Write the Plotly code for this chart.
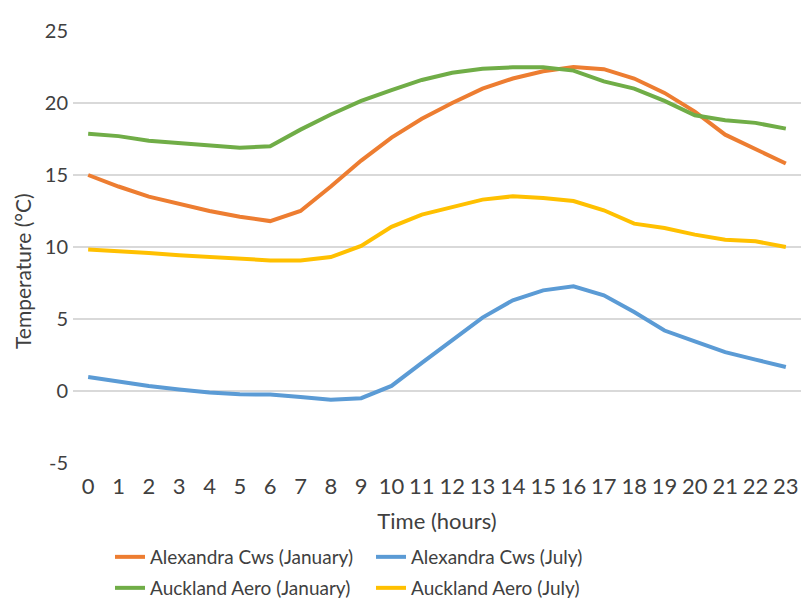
import plotly.graph_objects as go

hours = list(range(24))
hour_labels = [str(h) for h in hours]

alexandra_jan = [15.0, 14.2, 13.5, 13.0, 12.5, 12.1, 11.8, 12.5, 14.2, 16.0, 17.6, 18.9,
                 20.0, 21.0, 21.7, 22.2, 22.5, 22.35, 21.7, 20.7, 19.4, 17.8, 16.8, 15.8]
alexandra_jul = [0.97, 0.63, 0.35, 0.1, -0.11, -0.23, -0.25, -0.42, -0.6, -0.5, 0.35, 1.95,
                 3.55, 5.1, 6.3, 6.99, 7.27, 6.65, 5.48, 4.2, 3.45, 2.7, 2.18, 1.67]
auckland_jan = [17.87, 17.7, 17.38, 17.22, 17.12, 16.9, 16.99, 18.15, 19.2, 20.15, 20.9, 21.6,
                22.1, 22.38, 22.48, 22.48, 22.25, 21.5, 21.0, 20.15, 19.15, 18.8, 18.62, 18.22]
auckland_jul = [9.82, 9.72, 9.58, 9.42, 9.3, 9.19, 9.07, 9.07, 9.3, 10.07, 11.4, 12.25,
                12.78, 13.29, 13.52, 13.4, 13.19, 12.55, 11.62, 11.32, 10.86, 10.51, 10.4, 10.0]

y_ticks = [-5, 0, 5, 10, 15, 20, 25]
y_tick_labels = ["-5", "0", "5", "10", "15", "20", "25"]

FONT = "Lato, Open Sans, sans-serif"
TEXT = "#404040"
GRID = "#D9D9D9"

series = [
    ("Alexandra Cws (January)", alexandra_jan, "#ED7D31", "legend"),
    ("Alexandra Cws (July)", alexandra_jul, "#5B9BD5", "legend"),
    ("Auckland Aero (January)", auckland_jan, "#70AD47", "legend2"),
    ("Auckland Aero (July)", auckland_jul, "#FFC000", "legend2"),
]

fig = go.Figure()
for name, values, color, leg in series:
    fig.add_trace(go.Scatter(
        x=hours, y=values, name=name, mode="lines",
        line=dict(color=color, width=4),
        legend=leg,
    ))

legend_common = dict(
    orientation="h",
    xref="container", yref="container",
    x=110 / 801, xanchor="left",
    yanchor="middle",
    font=dict(family=FONT, size=19, color=TEXT),
    entrywidth=216, entrywidthmode="pixels",
    bgcolor="rgba(0,0,0,0)",
    itemclick=False,
)

fig.update_layout(
    width=801, height=605,
    margin=dict(l=73, r=0, t=31, b=142),
    paper_bgcolor="white", plot_bgcolor="white",
    font=dict(family=FONT, size=19, color=TEXT),
    showlegend=True,
    legend=dict(legend_common, y=1 - 557 / 605),
    legend2=dict(legend_common, y=1 - 588 / 605),
    xaxis=dict(
        range=[-0.5, 23.5],
        tickmode="array", tickvals=hours, ticktext=hour_labels,
        showgrid=False, zeroline=False, showline=False,
        ticks="", ticklabelstandoff=8,
        tickfont=dict(family=FONT, size=22, color=TEXT),
        title=dict(text="Time (hours)", font=dict(family=FONT, size=22, color=TEXT), standoff=15),
    ),
    yaxis=dict(
        range=[-5, 25],
        tickmode="array", tickvals=y_ticks, ticktext=y_tick_labels,
        showgrid=True, gridcolor=GRID, gridwidth=1.5,
        zeroline=False, showline=False,
        ticks="", ticklabelstandoff=4,
        tickfont=dict(family=FONT, size=20, color=TEXT),
    ),
    annotations=[dict(
        text="Temperature (°C)", textangle=-90,
        xref="paper", yref="paper",
        x=(22 - 73) / 728, y=(463 - 271) / 432,
        xanchor="center", yanchor="middle",
        showarrow=False,
        font=dict(family=FONT, size=21, color=TEXT),
    )],
)

fig.write_html("out.html")
